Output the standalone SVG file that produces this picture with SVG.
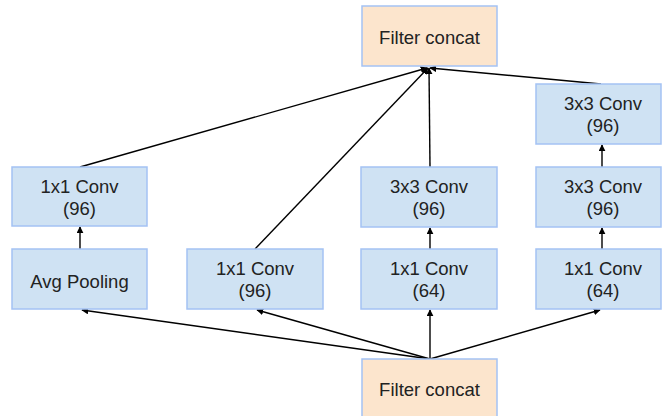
<svg xmlns="http://www.w3.org/2000/svg" width="662" height="416" viewBox="0 0 662 416">
<defs>
<style>
.b{fill:#cfe2f3;stroke:#a4c2f4;stroke-width:1.5}
.o{fill:#fce5cd;stroke:#a4c2f4;stroke-width:1.5}
.t{font-family:"Liberation Sans",Arial,sans-serif;font-size:18.5px;fill:#222;text-anchor:middle}
.c{stroke:#000;stroke-width:1.4;fill:none;marker-end:url(#a)}
</style>
<marker id="a" viewBox="0 0 10 10" refX="9" refY="5" markerWidth="5" markerHeight="5" orient="auto"><path d="M0,0L10,5L0,10z" fill="#000"/></marker>
</defs>
<rect width="662" height="416" fill="#fff"/>
<g id="connectors">
<line class="c" x1="430" y1="359" x2="82" y2="310"/>
<line class="c" x1="430" y1="359" x2="257" y2="310"/>
<line class="c" x1="430" y1="359" x2="430" y2="310"/>
<line class="c" x1="430" y1="359" x2="600" y2="310"/>
<line class="c" x1="80" y1="249" x2="80" y2="227"/>
<line class="c" x1="430" y1="249" x2="430" y2="228"/>
<line class="c" x1="602" y1="249" x2="602" y2="228"/>
<line class="c" x1="602" y1="167" x2="602" y2="145"/>
<line class="c" x1="80" y1="167" x2="427" y2="68"/>
<line class="c" x1="255" y1="249" x2="428" y2="68"/>
<line class="c" x1="430" y1="167" x2="429" y2="68"/>
<line class="c" x1="601" y1="84" x2="430" y2="68"/>
</g>
<g id="top"><rect class="o" x="362" y="6" width="135" height="60"/><text class="t" x="429.5" y="44">Filter concat</text></g>
<g id="bottom"><rect class="o" x="362" y="359" width="135" height="60"/><text class="t" x="429.5" y="396">Filter concat</text></g>
<g id="c1a"><rect class="b" x="12" y="167" width="135" height="59"/><text class="t" x="79.5" y="193">1x1 Conv</text><text class="t" x="79.5" y="215">(96)</text></g>
<g id="c1b"><rect class="b" x="12" y="249" width="135" height="60"/><text class="t" x="79.5" y="288">Avg Pooling</text></g>
<g id="c2"><rect class="b" x="187" y="249" width="136" height="60"/><text class="t" x="255" y="275">1x1 Conv</text><text class="t" x="255" y="297">(96)</text></g>
<g id="c3a"><rect class="b" x="361" y="167" width="136" height="60"/><text class="t" x="429" y="193">3x3 Conv</text><text class="t" x="429" y="215">(96)</text></g>
<g id="c3b"><rect class="b" x="361" y="249" width="136" height="60"/><text class="t" x="429" y="275">1x1 Conv</text><text class="t" x="429" y="297">(64)</text></g>
<g id="c4a"><rect class="b" x="536" y="84" width="125" height="60"/><text class="t" x="603" y="110">3x3 Conv</text><text class="t" x="603" y="132">(96)</text></g>
<g id="c4b"><rect class="b" x="536" y="167" width="125" height="60"/><text class="t" x="603" y="193">3x3 Conv</text><text class="t" x="603" y="215">(96)</text></g>
<g id="c4c"><rect class="b" x="536" y="249" width="125" height="60"/><text class="t" x="603" y="275">1x1 Conv</text><text class="t" x="603" y="297">(64)</text></g>
</svg>
